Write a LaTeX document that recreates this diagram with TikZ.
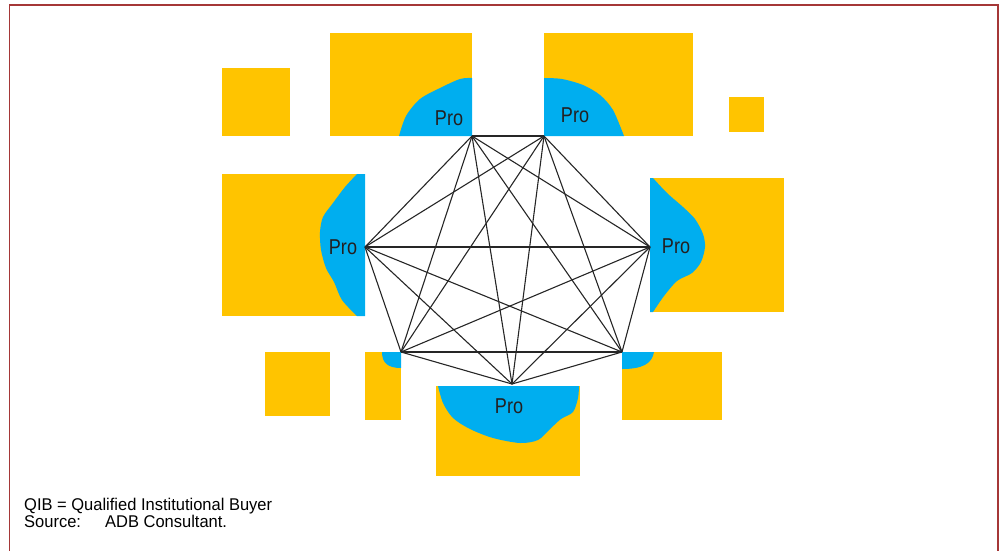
\documentclass[tikz,border=0pt]{standalone}
\usepackage{fontspec}
\setmainfont{Liberation Sans}
\newfontfamily\profont{Liberation Sans}[FakeStretch=0.84]
\newfontfamily\notefont{Liberation Sans}[FakeStretch=0.97]

\definecolor{qibyellow}{RGB}{255,196,0}
\definecolor{problue}{RGB}{0,174,239}
\definecolor{framered}{RGB}{165,55,55}
\definecolor{protext}{RGB}{35,31,32}

\tikzset{
  prolabel/.style={text=protext,font=\profont\fontsize{21.5}{21.5}\selectfont,inner sep=0pt},
  notelabel/.style={anchor=base west,inner sep=0pt,font=\notefont\fontsize{17}{19}\selectfont},
  link/.style={line width=1.1pt,black!85}
}

\begin{document}
\begin{tikzpicture}[x=1pt,y=-1pt]
    \useasboundingbox (0,0) rectangle (1001,550);

    % Frame
    \draw[framered,line width=1.5pt] (9.5,560) -- (9.5,5) -- (998,5) -- (998,560);

    % QIB boxes
    \fill[qibyellow] (222,68) rectangle (290,136);
    \fill[qibyellow] (330,33) rectangle (472,136);
    \fill[qibyellow] (544,33) rectangle (693,136);
    \fill[qibyellow] (729,97) rectangle (764,132);
    \fill[qibyellow] (222,174) rectangle (365,316);
    \fill[qibyellow] (650,178) rectangle (784,312);
    \fill[qibyellow] (265,352) rectangle (330,416);
    \fill[qibyellow] (365,352) rectangle (401,420);
    \fill[qibyellow] (436,386) rectangle (580,476);
    \fill[qibyellow] (622,352) rectangle (722,420);

    % Pro regions
    \fill[problue] plot[smooth] coordinates {(399,136) (406,116) (420,99) (440,88) (460,79) (472,78)} -- (472,136) -- cycle;
    \fill[problue] plot[smooth] coordinates {(544,78) (562,79) (583,85) (600,95) (613,110) (624,136)} -- (544,136) -- cycle;
    \fill[problue] plot[smooth] coordinates {(357,174) (345,187) (333,203) (323,217) (320,232) (321,250) (326,268) (334,282) (342,300) (357,316)} -- (365,316) -- (365,174) -- cycle;
    \fill[problue] plot[smooth] coordinates {(653,178) (667,193) (683,207) (695,219) (703,234) (705,247) (701,262) (692,273) (677,281) (664,296) (653,312)} -- (650,312) -- (650,178) -- cycle;
    \fill[problue] plot[smooth] coordinates {(438,386) (443,403) (453,418) (470,429) (493,438) (520,443) (538,440) (550,429) (561,419) (573,412) (578,398) (579,386)} -- cycle;
    \fill[problue] (382,352) .. controls (382,363) and (388,368) .. (401,368) -- (401,352) -- cycle;
    \fill[problue] (654,352) .. controls (652,364) and (642,369) .. (622,369) -- (622,352) -- cycle;

    % Labels
    \node[prolabel] (pro1) at (449,118) {Pro};
    \node[prolabel] (pro2) at (575,115) {Pro};
    \node[prolabel] (pro3) at (676,246) {Pro};
    \node[prolabel] (pro5) at (509,406) {Pro};
    \node[prolabel] (pro7) at (343,247) {Pro};

    % Network
    \coordinate (v1) at (472,136);
    \coordinate (v2) at (544,136);
    \coordinate (v3) at (650,247);
    \coordinate (v4) at (622,352);
    \coordinate (v5) at (512,384);
    \coordinate (v6) at (401,352);
    \coordinate (v7) at (365,247);
    \foreach \i in {1,...,6}{
      \pgfmathtruncatemacro{\k}{\i+1}
      \foreach \j in {\k,...,7}
        \draw[link] (v\i) -- (v\j);
    }

    % Notes
    \node[notelabel] (qib) at (24,510.5) {QIB = Qualified Institutional Buyer};
    \node[notelabel] (src) at (24,527) {Source:};
    \node[notelabel] (adb) at (105,527) {ADB Consultant.};
  \end{tikzpicture}
\end{document}
